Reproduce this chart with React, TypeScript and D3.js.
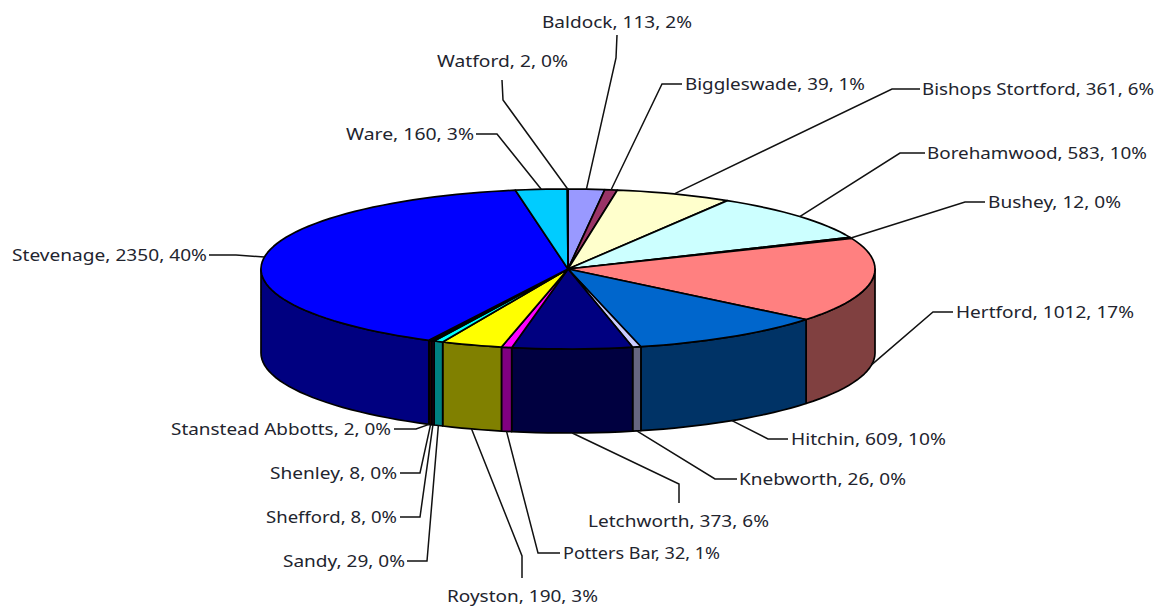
import React from "react";
import * as d3 from "d3";

const categories = ["Baldock","Biggleswade","Bishops Stortford","Borehamwood","Bushey","Hertford","Hitchin","Knebworth","Letchworth","Potters Bar","Royston","Sandy","Shefford","Shenley","Stanstead Abbotts","Stevenage","Ware","Watford"];
const values = [113,39,361,583,12,1012,609,26,373,32,190,29,8,8,2,2350,160,2];
const colors = ["#9999FF","#993366","#FFFFCC","#CCFFFF","#660066","#FF8080","#0066CC","#CCCCFF","#000080","#FF00FF","#FFFF00","#00FFFF","#800080","#800000","#008080","#0000FF","#00CCFF","#CCFFFF"];

// label layout: [left, right, centre y]
const labelBoxes: number[][] = [[542,692,22],[685,865,84],[922,1154,89],[927,1147,153],[988,1121,202],[956,1134,312],[791,946,439],[739,906,479],[588,769,521],[563,720,553],[447,598,596],[283,405,561],[266,397,517],[270,397,473],[171,391,429],[12,207,255],[346,474,134],[437,568,61]];
// leader layout: label-side start, elbow
const leaderPaths: number[][][] = [
  [[617,35],[616,58]],[[682,84],[662,84]],[[920,89],[892,89]],[[925,153],[900,153]],[[985,202],[965,202]],[[953,312],[933,312]],[[788,439],[768,439]],[[737,479],[715,479]],[[679,503],[679,484]],[[560,553],[538,553]],[[522,578],[522,556]],[[407,561],[427,561]],[[400,517],[420,517]],[[400,473],[420,473]],[[394,429],[416,429]],[[209,255],[236,255]],[[476,134],[497,134]],[[502,80],[503,100]],
];

const cx = 568, cy = 269, rx = 307, ry = 80, depth = 84;
const total = d3.sum(values);
const arcs = d3.pie<number>().sort(null).value((d) => d)(values);
const pt = (t: number, dy = 0): [number, number] => [cx + rx * Math.sin(t), cy - ry * Math.cos(t) + dy];
const sample = (a: number, b: number) => {
  const n = Math.max(2, Math.ceil((b - a) / 0.04));
  return d3.range(n + 1).map((i) => a + ((b - a) * i) / n);
};
const line = d3.line();
const darken = (c: string) => {
  const r = d3.rgb(c);
  return d3.rgb(r.r / 2, r.g / 2, r.b / 2).formatHex();
};
const FRONT_A = Math.PI / 2, FRONT_B = (3 * Math.PI) / 2;

export default function App() {
  return (
    <svg width={1160} height={608} style={{ position: "absolute", left: 0, top: 0, background: "#fff" }} fontFamily="'Noto Sans'">
      {arcs.map((a, i) => {
        const s = Math.max(a.startAngle, FRONT_A), e = Math.min(a.endAngle, FRONT_B);
        if (e <= s) return null;
        const ts = sample(s, e);
        const pts = [...ts.map((t) => pt(t)), ...ts.slice().reverse().map((t) => pt(t, depth))];
        return <path key={i} d={line(pts) + "Z"} fill={darken(colors[i])} stroke="#000" strokeWidth={1.7} strokeLinejoin="round" />;
      })}
      {arcs.map((a, i) => {
        const pts: [number, number][] = [[cx, cy], ...sample(a.startAngle, a.endAngle).map((t) => pt(t))];
        return <path key={i} d={line(pts) + "Z"} fill={colors[i]} stroke="#000" strokeWidth={1.7} strokeLinejoin="round" />;
      })}
      {arcs.map((a, i) => {
        const m = (a.startAngle + a.endAngle) / 2;
        const anchor = pt(m, m > FRONT_A && m < FRONT_B ? depth : 0);
        return <path key={i} d={line([...(leaderPaths[i] as [number, number][]), anchor]) as string} fill="none" stroke="#111" strokeWidth={1.5} />;
      })}
      {arcs.map((a, i) => {
        const [l, r, y] = labelBoxes[i];
        return (
          <text key={i} x={l} y={y + 0.5} dy="0.36em" fontSize={16} fill="#22242e" textLength={r - l} lengthAdjust="spacingAndGlyphs">
            {`${categories[i]}, ${values[i]}, ${Math.round((values[i] / total) * 100)}%`}
          </text>
        );
      })}
    </svg>
  );
}
